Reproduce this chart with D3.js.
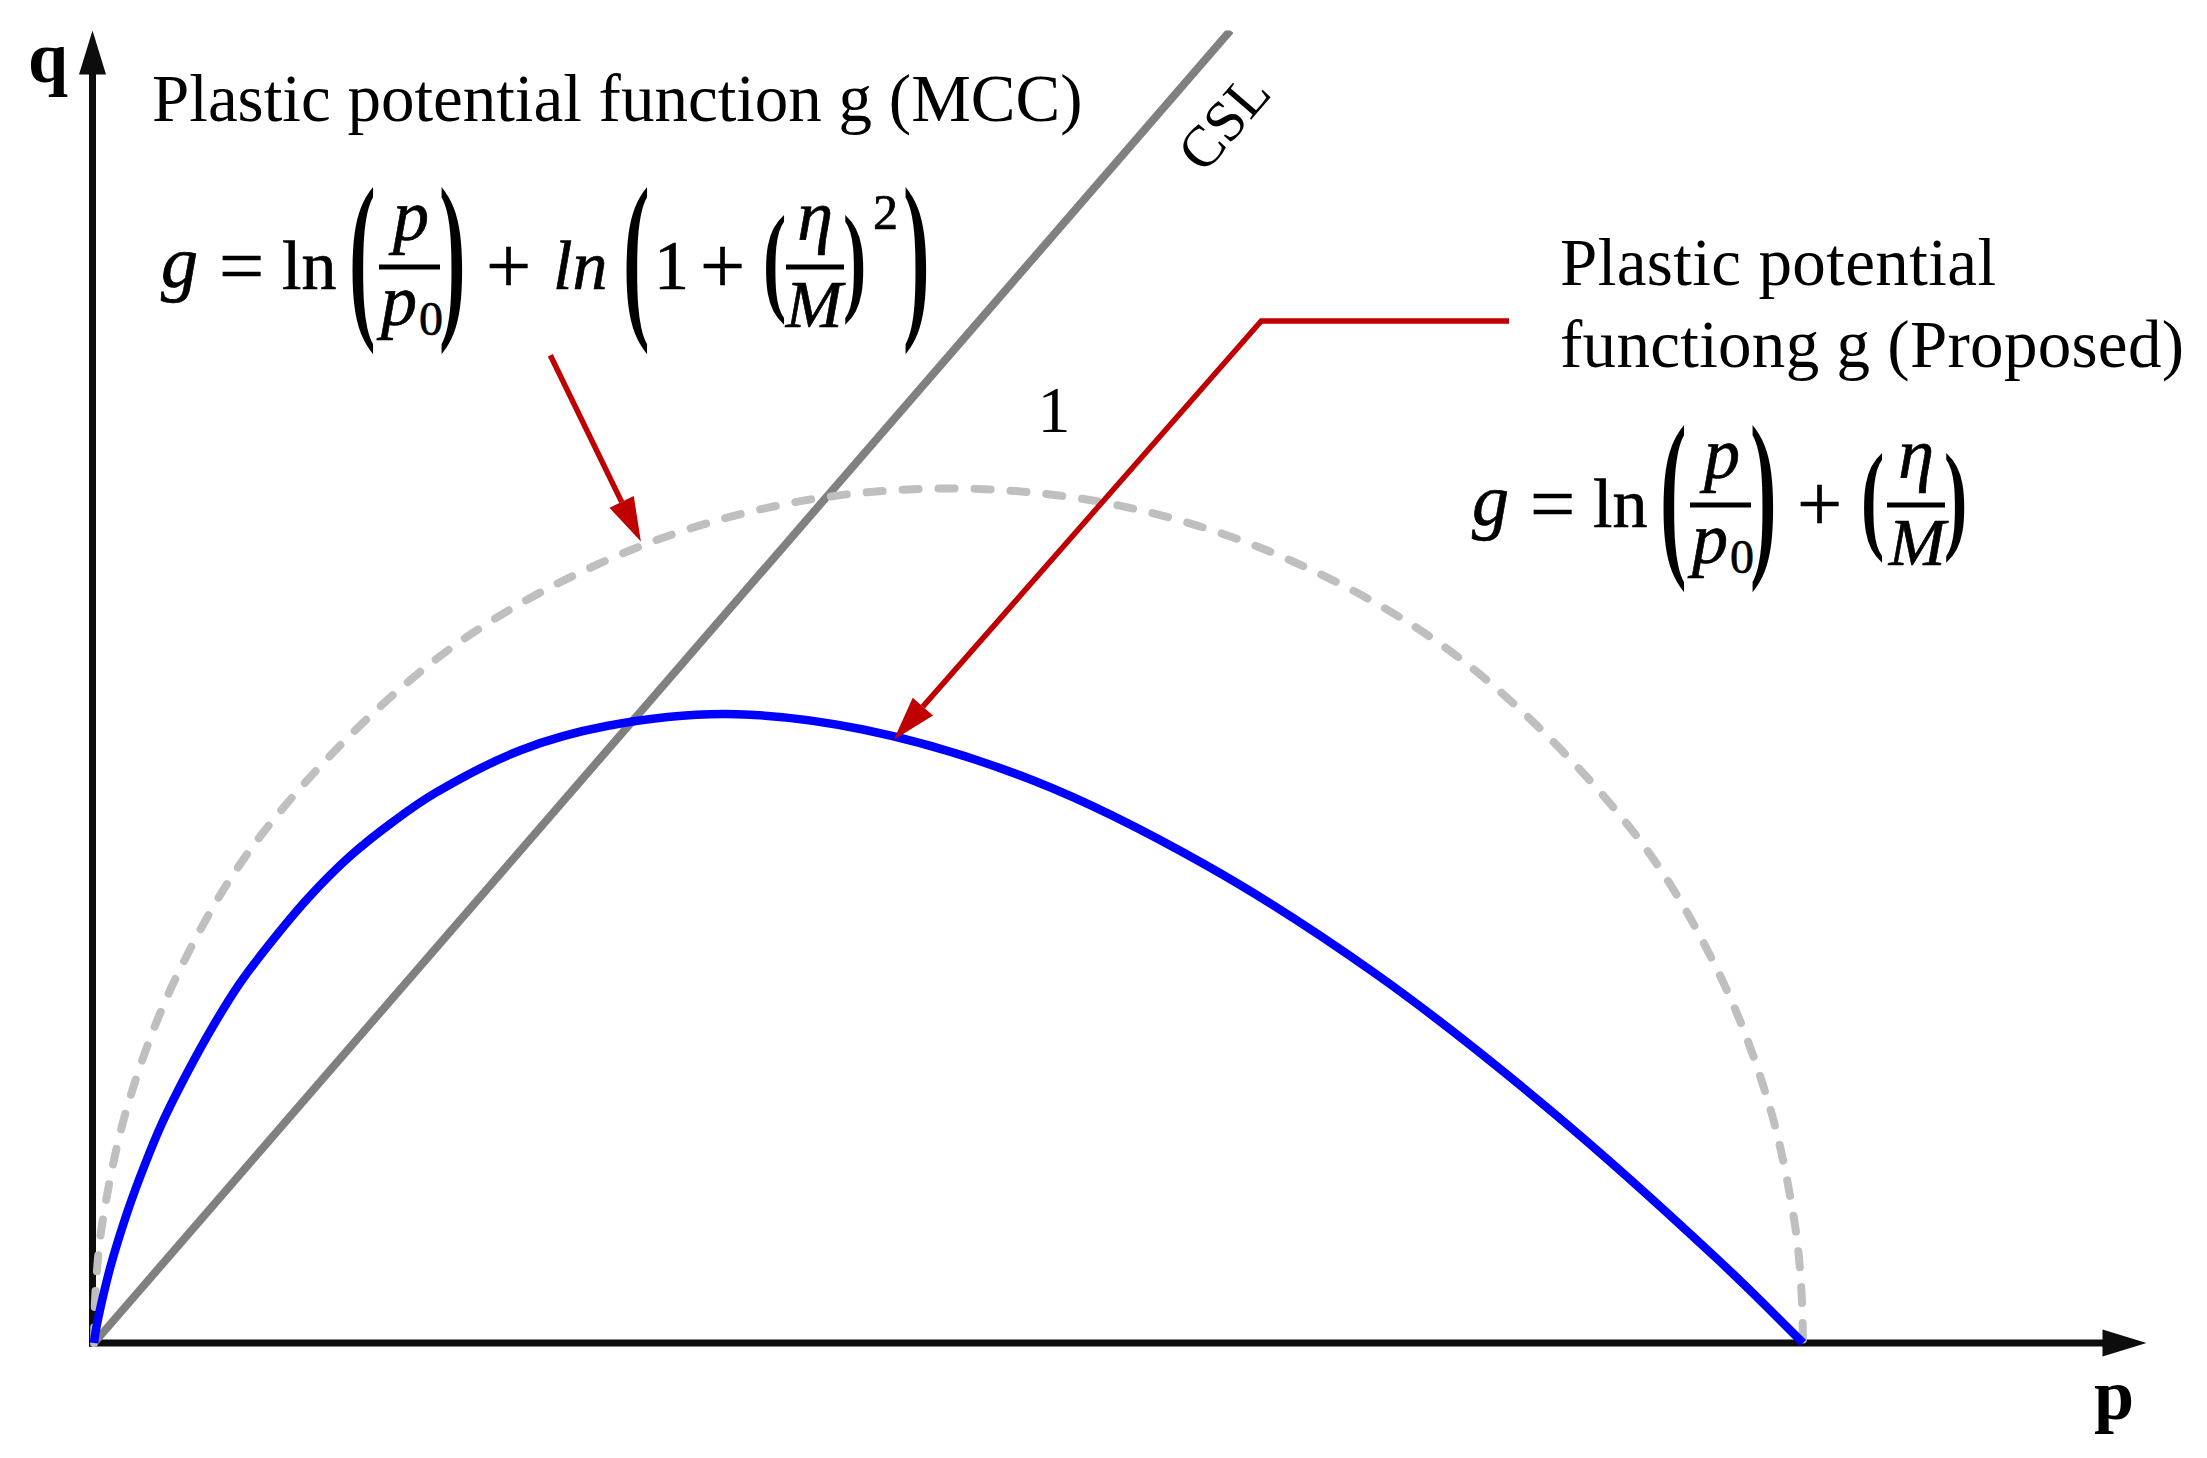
<!DOCTYPE html>
<html>
<head>
<meta charset="utf-8">
<script src="https://cdn.jsdelivr.net/npm/d3@7"></script>
<style>
  html, body { margin: 0; padding: 0; background: #fff; }
  svg { display: block; }
  text { font-family: "Liberation Serif", "Times New Roman", serif; fill: #000; }
  .math text { stroke: #000; stroke-width: 0.7; }
</style>
</head>
<body>
<div id="chart"></div>
<script>
// p-q plane, p normalised so that p0 = 100

const mccP = [0, 0.1, 0.5, 2, 5, 10, 20, 30, 40, 50, 60, 70, 80, 90, 95, 98, 99.5, 99.9, 100];
const mccQ = [0, 3.2, 7.1, 14.0, 21.8, 30.0, 40.0, 45.8, 49.0, 50.0, 49.0, 45.8, 40.0, 30.0, 21.8, 14.0, 7.1, 3.2, 0];

const propP = [0, 0.1, 0.5, 1, 2, 3, 4, 5.5, 7, 8.5, 10, 12.5, 15, 17.5, 20, 25, 30, 37, 45, 55, 65, 75, 85, 95, 100];
const propQ = [0, 0.7, 2.6, 4.6, 7.8, 10.5, 12.9, 15.9, 18.6, 21.0, 23.0, 26.0, 28.5, 30.5, 32.2, 34.7, 36.1, 36.8, 35.9, 32.9, 28.0, 21.6, 13.8, 4.9, 0];

const cslP = [0, 66.5];
const cslQ = [0, 76.8];

// arrow tips of the two axes
const pEnd = 120.1;
const qEnd = 76.8;

// callouts (p, q)
const mccCallout = [[26.7, 57.8], [32.0, 46.9]];
const propCallout = [[82.8, 59.8], [68.3, 59.8], [46.8, 35.3]];

const W = 2207, H = 1458;
const X0 = 94, Y0 = 1343, UNIT = 17.09;

const svg = d3.select('#chart').append('svg')
    .attr('width', W)
    .attr('height', H);

const x = d3.scaleLinear().domain([0, pEnd]).range([X0, X0 + pEnd * UNIT]);
const y = d3.scaleLinear().domain([0, qEnd]).range([Y0, Y0 - qEnd * UNIT]);

const smooth = d3.line()
    .x(d => x(d[0]))
    .y(d => y(d[1]))
    .curve(d3.curveCatmullRom.alpha(0.5));

const RED = '#C00000';

// arrowhead helper: tip at (tx,ty), coming from (fx,fy)
function arrowHead(g, fx, fy, tx, ty, len, half, color) {
  const a = Math.atan2(ty - fy, tx - fx);
  const bx = tx - Math.cos(a) * len, by = ty - Math.sin(a) * len;
  const nx = -Math.sin(a) * half, ny = Math.cos(a) * half;
  g.append('path')
      .attr('d', `M${tx},${ty}L${bx + nx},${by + ny}L${bx - nx},${by - ny}Z`)
      .attr('fill', color);
  return [bx, by];
}

// axes
const axes = svg.append('g');
axes.append('line')
    .attr('x1', x(0) - 5).attr('y1', y(0))
    .attr('x2', x(pEnd) - 40).attr('y2', y(0))
    .attr('stroke', '#0d0d0d').attr('stroke-width', 7);
arrowHead(axes, x(0), y(0), x(pEnd), y(0), 44, 13.5, '#0d0d0d');
axes.append('line')
    .attr('x1', x(0) - 1.5).attr('y1', y(0) + 3.5)
    .attr('x2', x(0) - 1.5).attr('y2', y(qEnd) + 40)
    .attr('stroke', '#0d0d0d').attr('stroke-width', 7);
arrowHead(axes, x(0) - 1.5, y(0), x(0) - 1.5, y(qEnd), 44, 13.5, '#0d0d0d');

axes.append('text')
    .attr('x', 48).attr('y', 82)
    .attr('text-anchor', 'middle')
    .attr('font-weight', 'bold')
    .attr('font-size', 72)
    .text('q');
axes.append('text')
    .attr('x', 2114).attr('y', 1419)
    .attr('text-anchor', 'middle')
    .attr('font-weight', 'bold')
    .attr('font-size', 72)
    .text('p');

// CSL
svg.append('clipPath').attr('id', 'clipTop')
  .append('rect').attr('x', 0).attr('y', y(qEnd)).attr('width', W).attr('height', H);

svg.append('path')
    .datum(d3.zip(cslP, cslQ))
    .attr('d', d3.line().x(d => x(d[0])).y(d => y(d[1])))
    .attr('clip-path', 'url(#clipTop)')
    .attr('fill', 'none')
    .attr('stroke', '#808080')
    .attr('stroke-width', 8);

const cslAngle = -Math.atan2(cslQ[1], cslP[1]) * 180 / Math.PI;
svg.append('text')
    .attr('transform', `translate(1224,122) rotate(${cslAngle})`)
    .attr('text-anchor', 'middle')
    .attr('dy', '0.33em')
    .attr('font-size', 58)
    .text('CSL');

svg.append('text')
    .attr('x', 1054).attr('y', 432)
    .attr('text-anchor', 'middle')
    .attr('font-size', 66)
    .text('1');

// MCC (dashed) and proposed (blue)
svg.append('path')
    .datum(d3.zip(mccP, mccQ))
    .attr('d', smooth)
    .attr('fill', 'none')
    .attr('stroke', '#BFBFBF')
    .attr('stroke-width', 8)
    .attr('stroke-linecap', 'round')
    .attr('stroke-dasharray', '16 20');

svg.append('path')
    .datum(d3.zip(propP, propQ))
    .attr('d', smooth)
    .attr('fill', 'none')
    .attr('stroke', '#0000FF')
    .attr('stroke-width', 8.5);

// callout arrows
const notes = svg.append('g');
function callout(pts) {
  const px = pts.map(d => [x(d[0]), y(d[1])]);
  const n = px.length;
  const base = arrowHead(notes, px[n - 2][0], px[n - 2][1], px[n - 1][0], px[n - 1][1], 44, 13.5, RED);
  const shaft = px.slice(0, n - 1).concat([[base[0], base[1]]]);
  notes.append('path')
      .attr('d', d3.line()(shaft))
      .attr('fill', 'none')
      .attr('stroke', RED)
      .attr('stroke-width', 5.5);
}
callout(mccCallout);
callout(propCallout);

// labels
svg.append('text')
    .attr('x', 152).attr('y', 121)
    .attr('font-size', 67)
    .text('Plastic potential function g (MCC)');

svg.append('text')
    .attr('x', 1560).attr('y', 285)
    .attr('font-size', 67)
    .attr('textLength', 436)
    .text('Plastic potential');
svg.append('text')
    .attr('x', 1560).attr('y', 367)
    .attr('font-size', 67)
    .attr('textLength', 624)
    .text('functiong g (Proposed)');

// equations: dx/dy relative to the left of "g" and the fraction bar
function drawEquation(ox, oy, items) {
  const g = svg.append('g').attr('class', 'math').attr('transform', `translate(${ox},${oy})`);
  items.forEach(d => {
    if (d.bar) {
      g.append('rect')
          .attr('x', d.bar[0]).attr('y', -2.5)
          .attr('width', d.bar[1] - d.bar[0]).attr('height', 5)
          .attr('fill', '#000');
      return;
    }
    if (d.paren) {
      const fs = d.paren > 130 ? 80 : 70;
      const k = d.paren / (0.853 * fs);
      g.append('text')
          .attr('transform', `translate(${d.dx},2) scale(1,${k})`)
          .attr('y', 0.2495 * fs)
          .attr('font-size', fs)
          .attr('font-weight', 'bold')
          .style('stroke-width', 0)
          .text(d.t);
      return;
    }
    g.append('text')
        .attr('x', d.dx).attr('y', d.dy)
        .attr('text-anchor', d.mid ? 'middle' : 'start')
        .attr('font-style', d.it ? 'italic' : 'normal')
        .attr('font-size', d.size || 70)
        .text(d.t);
  });
}

const lhs = [
  { t: 'g', dx: -2, dy: 20, it: 1, size: 74 },
  { t: '=', dx: 56, dy: 26, size: 80 },
  { t: 'ln', dx: 119, dy: 22 },
  { t: '(', dx: 186, paren: 157 },
  { t: 'p', dx: 248, dy: -27, it: 1, mid: 1, size: 72 },
  { bar: [216, 277] },
  { t: 'p', dx: 218, dy: 58, it: 1, size: 72 },
  { t: '0', dx: 256, dy: 68, size: 48 },
  { t: ')', dx: 276, paren: 157 },
  { t: '+', dx: 323, dy: 26, size: 80 }
];

drawEquation(163, 267, lhs.concat([
  { t: 'ln', dx: 390, dy: 22, it: 1 },
  { t: '(', dx: 460, paren: 157 },
  { t: '1', dx: 491, dy: 22 },
  { t: '+', dx: 537, dy: 26, size: 80 },
  { t: '(', dx: 600, paren: 103 },
  { t: 'η', dx: 652, dy: -27, it: 1, mid: 1, size: 72 },
  { bar: [623, 681] },
  { t: 'M', dx: 651, dy: 60, it: 1, mid: 1, size: 68 },
  { t: ')', dx: 680, paren: 103 },
  { t: '2', dx: 710, dy: -38, size: 50 },
  { t: ')', dx: 740, paren: 157 }
]));

drawEquation(1474, 505, lhs.concat([
  { t: '(', dx: 387, paren: 103 },
  { t: 'η', dx: 442, dy: -27, it: 1, mid: 1, size: 72 },
  { bar: [413, 471] },
  { t: 'M', dx: 443, dy: 60, it: 1, mid: 1, size: 68 },
  { t: ')', dx: 470, paren: 103 }
]));
</script>
</body>
</html>
